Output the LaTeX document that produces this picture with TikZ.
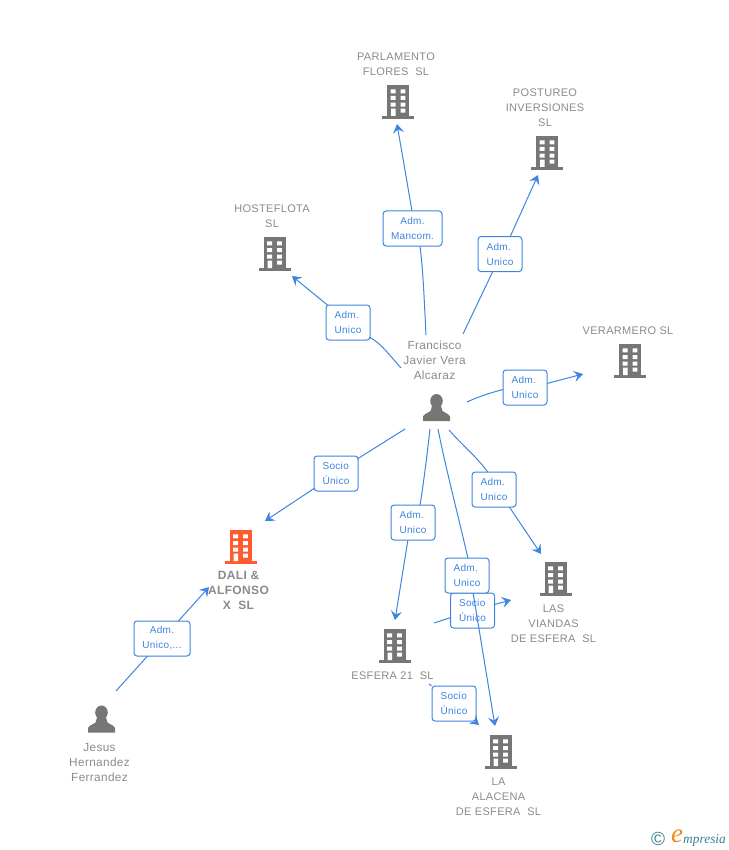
\documentclass[tikz,border=0pt]{standalone}
\usepackage{fontspec}
\setmainfont{Liberation Sans}[LetterSpace=3]
\newfontfamily\logofont{Liberation Serif}
\usetikzlibrary{arrows.meta,calc}
\definecolor{linkblue}{HTML}{3C85E0}
\definecolor{labelgrey}{HTML}{8A8A8A}
\definecolor{iconorange}{HTML}{FF5B2E}
\definecolor{icongrey}{HTML}{767676}
\definecolor{logoteal}{HTML}{3A7F94}
\definecolor{logoorange}{HTML}{F08A1E}
\pgfdeclarelayer{low}
\pgfdeclarelayer{conn}
\pgfsetlayers{low,conn,main}
\tikzset{
  link/.style={draw=linkblue,line width=1pt},
  arrowlink/.style={link,-{Stealth[length=9pt,width=11pt,inset=3.5pt]}},
  relbox/.style={draw=linkblue,line width=1pt,fill=white,rounded corners=3pt,inner sep=0pt,
     minimum height=35pt,text=linkblue,align=center,font=\fontsize{10}{15}\selectfont},
  w44/.style={minimum width=44pt,align=left},
  name text/.style={text=labelgrey,align=center,inner sep=0pt,font=\fontsize{11}{15}\selectfont},
  person text/.style={name text,font=\fontsize{11.8}{15}\selectfont},
  pics/tower/.style={code={
    \fill[#1] (-11,0) rectangle (11,31);
    \fill[#1] (-16,31) rectangle (16,34);
    \fill[white] (-7.3,4.3) rectangle (-2.3,8.3) (2.6,4.3) rectangle (7.3,8.3)
       (-7.3,11) rectangle (-2.3,15) (2.6,11) rectangle (7.3,15)
       (-7.3,17.7) rectangle (-2.3,21.7) (2.6,17.7) rectangle (7.3,21.7)
       (-7,23.7) rectangle (-2.3,31) (2.6,23.7) rectangle (7.3,27.7);
  }},
  pics/person/.style={code={
    \fill[icongrey] (0,7) ellipse (6.3 and 7);
    \fill[icongrey] (-13.5,27) -- (-13.5,22.5) .. controls (-13,20.5) and (-9,19) .. (-6,17)
      -- (-4.5,12) -- (4.5,12) -- (6,17) .. controls (9,19) and (13,20.5) .. (13.5,22.5) -- (13.5,27) -- cycle;
  }},
}
\newcommand{\relnode}[4][]{\node[relbox,#1] (#2) at (#3) {#4};}
\begin{document}
\begin{tikzpicture}[x=1pt,y=-1pt]
\useasboundingbox (0,0) rectangle (728,850);

% towers
\pic at (398,85) {tower=icongrey};
\pic at (547,136) {tower=icongrey};
\pic at (274.5,237) {tower=icongrey};
\pic at (630,344) {tower=icongrey};
\pic at (240.5,530) {tower=iconorange};
\pic at (555.5,562) {tower=icongrey};
\pic at (394.5,629) {tower=icongrey};
\pic at (500.5,735) {tower=icongrey};
% people
\pic at (436.5,394) {person};
\pic at (101.5,705.5) {person};

% names
\node[name text] (parlamento) at (396,64) {PARLAMENTO\\FLORES\ \ SL};
\node[name text] (postureo) at (545,107.5) {POSTUREO\\INVERSIONES\\SL};
\node[name text] (hosteflota) at (272,216) {HOSTEFLOTA\\SL};
\node[name text] (verarmero) at (628,330.5) {VERARMERO SL};
\node[name text,font=\fontsize{12}{15}\selectfont\bfseries] (dali) at (238.5,590.5) {DALI \&\\ALFONSO\\X\ \ SL};
\node[name text] (viandas) at (553.5,623.5) {LAS\\VIANDAS\\DE ESFERA\ \ SL};
\node[name text] (esfera) at (392.5,675.5) {ESFERA 21\ \ SL};
\node[name text] (alacena) at (498.5,796.5) {LA\\ALACENA\\DE ESFERA\ \ SL};
\node[person text] (francisco) at (434.5,360) {Francisco\\Javier Vera\\Alcaraz};
\node[person text] (jesus) at (99.5,762.5) {Jesus\\Hernandez\\Ferrandez};

% free ends of connectors
\coordinate (f1) at (426,335); \coordinate (t1) at (397,124);
\coordinate (f2) at (463,334); \coordinate (t2) at (538,175);
\coordinate (f3) at (401,368); \coordinate (t3) at (292,276);
\coordinate (f4) at (467,402); \coordinate (t4) at (583,374);
\coordinate (f5) at (405,429); \coordinate (t5) at (265,521);
\coordinate (f6) at (430,429); \coordinate (t6) at (395,620);
\coordinate (f7) at (438,429); \coordinate (t7) at (495,726);
\coordinate (f8) at (449,430); \coordinate (t8) at (541,554);
\coordinate (f9) at (434,623); \coordinate (t9) at (511,600);
\coordinate (f10) at (429,684); \coordinate (t10) at (479,725);
\coordinate (f11) at (116,691); \coordinate (t11) at (209,587);

% relation boxes that the connector of another pair runs over
\begin{pgfonlayer}{low}
\relnode[w44]{sv}{472.5,610.5}{Socio\\Único}
\relnode[w44]{sa}{454,703.5}{Socio\\Único}
\end{pgfonlayer}

\relnode[minimum width=59pt]{r1}{412.5,228.5}{Adm.\\Mancom.}
\relnode[w44]{r2}{500,254}{Adm.\\Unico}
\relnode[w44]{r3}{348,322.5}{Adm.\\Unico}
\relnode[w44]{r4}{525,387.5}{Adm.\\Unico}
\relnode[w44]{r5}{336,473.5}{Socio\\Único}
\relnode[w44]{r6}{413,522.5}{Adm.\\Unico}
\relnode[w44]{r7}{467,575.5}{Adm.\\Unico}
\relnode[w44]{r8}{494,489.5}{Adm.\\Unico}
\relnode[minimum width=56pt]{r11}{162,638.5}{Adm.\\Unico,...}

% connectors
\begin{pgfonlayer}{conn}
\draw[link] (f1) .. controls (424,295) and (423,270) .. ($(r1)+(7.5,17.5)$) -- ($(r1)+(-0.5,-17.5)$);
\draw[arrowlink] ($(r1)+(-0.5,-17.5)$) -- (t1);
\draw[link] (f2) -- ($(r2)+(-7,17)$) -- ($(r2)+(10,-17)$);
\draw[arrowlink] ($(r2)+(10,-17)$) -- (t2);
\draw[link] (f3) .. controls (390,356) and (382,344) .. ($(r3)+(22,15)$) -- ($(r3)+(-20,-17)$);
\draw[arrowlink] ($(r3)+(-20,-17)$) -- (t3);
\draw[link] (f4) .. controls (480,396) and (490,393) .. ($(r4)+(-22,2)$) -- ($(r4)+(22,-4)$);
\draw[arrowlink] ($(r4)+(22,-4)$) -- (t4);
\draw[link] (f5) -- ($(r5)+(22,-15)$) -- ($(r5)+(-22,15)$);
\draw[arrowlink] ($(r5)+(-22,15)$) -- (t5);
\draw[link] (f6) .. controls (427,455) and (424,480) .. ($(r6)+(7,-17)$) -- ($(r6)+(-5,17)$);
\draw[arrowlink] ($(r6)+(-5,17)$) -- (t6);
\draw[link] (f7) .. controls (445,465) and (458,515) .. ($(r7)+(1,-17)$) -- ($(r7)+(6,17)$);
\draw[arrowlink] ($(r7)+(6,17)$) -- (t7);
\draw[link] (f8) .. controls (462,445) and (478,458) .. ($(r8)+(-6,-17)$) -- ($(r8)+(15,17)$);
\draw[arrowlink] ($(r8)+(15,17)$) -- (t8);
\draw[link] (f9) -- (sv);
\draw[arrowlink] (sv) -- (t9);
\draw[link] (f10) -- (sa);
\draw[arrowlink] (sa) -- (t10);
\draw[link] (f11) -- ($(r11)+(-14,17)$) -- ($(r11)+(16,-17)$);
\draw[arrowlink] ($(r11)+(16,-17)$) -- (t11);
\end{pgfonlayer}

% logo
\node[inner sep=0pt,text=logoteal,font=\fontsize{19}{19}\selectfont] (copy) at (658,839) {©};
\node[inner sep=0pt,text=logoorange,font=\logofont\itshape\fontsize{27}{27}\selectfont] (loge) at (677,836) {e};
\node[inner sep=0pt,anchor=west,text=logoteal,font=\logofont\itshape\fontsize{13.4}{14}\selectfont] (logt) at (683,840) {mpresia};
\end{tikzpicture}
\end{document}
